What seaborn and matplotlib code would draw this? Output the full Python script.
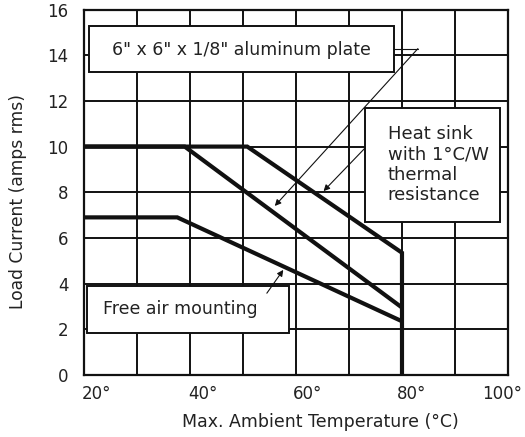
import matplotlib
matplotlib.use("Agg")
import matplotlib.pyplot as plt
import matplotlib.transforms as mtransforms
from matplotlib.patches import Rectangle
import seaborn as sns
import pandas as pd

# ---- data ----
heatsink_temp = [20, 50.8, 80, 80]
heatsink_amps = [10, 10, 5.35, 0]
plate_temp = [20, 39.0, 80]
plate_amps = [10, 10, 2.95]
free_temp = [20, 37.6, 80]
free_amps = [6.9, 6.9, 2.35]

x_ticks = [20, 40, 60, 80, 100]
x_tick_labels = ["20°", "40°", "60°", "80°", "100°"]
y_ticks = [0, 2, 4, 6, 8, 10, 12, 14, 16]

label_plate = '6" x 6" x 1/8" aluminum plate'
label_heatsink = "Heat sink\nwith 1°C/W\nthermal\nresistance"
label_free = "Free air mounting"

sns.set_theme(style="white")
plt.rcParams["font.family"] = ["DejaVu Sans"]

fig = plt.figure(figsize=(5.25, 4.37), dpi=100)
ax = fig.add_axes([0.16, 0.142, 0.8076, 0.8361])

for t, a in [(heatsink_temp, heatsink_amps), (plate_temp, plate_amps), (free_temp, free_amps)]:
    df = pd.DataFrame({"T": t, "I": a})
    sns.lineplot(data=df, x="T", y="I", sort=False, estimator=None, ax=ax,
                 color="#111111", linewidth=3.0, zorder=5,
                 solid_joinstyle="miter", solid_capstyle="butt")

ax.set_xlim(20, 100)
ax.set_ylim(0, 16)
grid_x = list(range(20, 101, 10))
ax.set_xticks(grid_x)
ax.set_xticklabels([x_tick_labels[x_ticks.index(v)] if v in x_ticks else "" for v in grid_x])
ax.set_yticks(y_ticks)
ax.grid(True, color="#111111", linewidth=1.4)
ax.set_axisbelow(True)
for s in ax.spines.values():
    s.set_color("#111111")
    s.set_linewidth(1.6)
ax.tick_params(axis="both", length=0, labelsize=12, colors="#222222")
ax.tick_params(axis="y", pad=11)
ax.tick_params(axis="x", pad=7)

offsets = {"20°": 9, "40°": 9, "60°": 8, "80°": 7, "100°": -4}
for lab in ax.get_xticklabels():
    txt = lab.get_text()
    if txt in offsets:
        lab.set_transform(lab.get_transform() + mtransforms.ScaledTranslation(offsets[txt] / 72, 0, fig.dpi_scale_trans))

ax.set_xlabel("Max. Ambient Temperature (°C)", fontsize=12.5, color="#222222")
ax.set_ylabel("Load Current (amps rms)", fontsize=12.3, color="#222222")
ax.xaxis.set_label_coords(0.557, -0.105)
ax.yaxis.set_label_coords(-0.135, 0.476)

# boxes
def box(x0, y0, x1, y1):
    ax.add_patch(Rectangle((x0, y0), x1 - x0, y1 - y0, facecolor="white",
                           edgecolor="#111111", linewidth=1.4, zorder=6))

box(20.9, 13.27, 78.5, 15.3)
ax.text(49.7, 14.25, label_plate, ha="center", va="center", fontsize=12.5, color="#222222", zorder=7)

box(73.0, 6.68, 98.5, 11.7)
ax.text(77.3, 9.2, label_heatsink, ha="left", va="center", fontsize=13.0, color="#222222",
        linespacing=1.17, zorder=7)

box(20.55, 1.84, 58.7, 3.9)
ax.text(23.5, 2.9, label_free, ha="left", va="center", fontsize=12.5, color="#222222", zorder=7)

arrow = dict(arrowstyle="-|>", color="#111111", linewidth=0.8, mutation_scale=9, shrinkA=0, shrinkB=0)
# aluminum plate leader
ax.plot([78.5, 83.0], [14.29, 14.29], color="#111111", linewidth=0.8, zorder=8)
ax.annotate("", xy=(56.0, 7.4), xytext=(83.0, 14.29), arrowprops=arrow, zorder=8)
# heat sink
ax.annotate("", xy=(65.2, 8.05), xytext=(73.0, 9.93), arrowprops=arrow, zorder=8)
# free air
ax.annotate("", xy=(57.6, 4.6), xytext=(54.5, 3.58), arrowprops=arrow, zorder=8)

fig.savefig("out.png", dpi=100)
